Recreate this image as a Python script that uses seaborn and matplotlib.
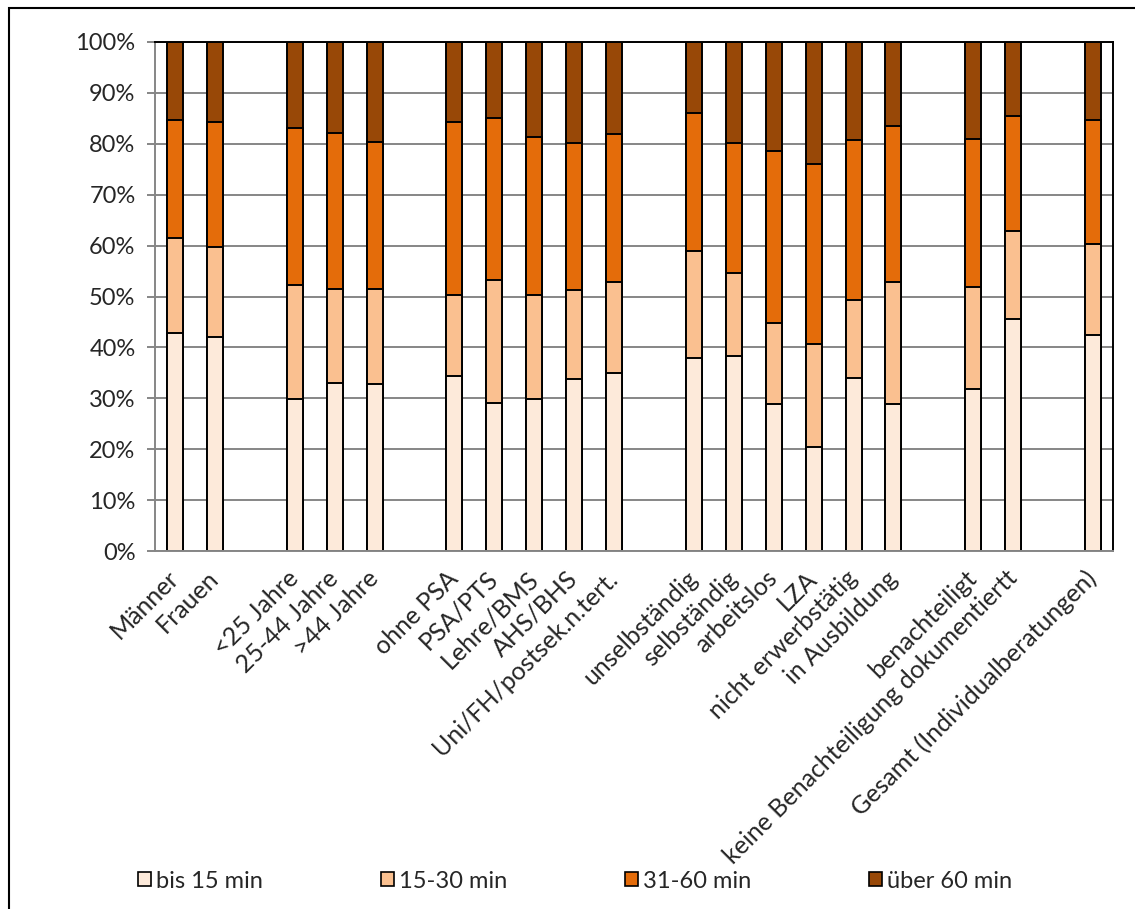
import pandas as pd
import matplotlib.pyplot as plt
import seaborn as sns
from matplotlib.patches import Patch, Rectangle
from matplotlib.ticker import PercentFormatter, MultipleLocator, FixedLocator

# ------------------------
# DATEN (Anteile in %)
# ------------------------
kategorien = [
    "Männer", "Frauen",
    "<25 Jahre", "25-44 Jahre", ">44 Jahre",
    "ohne PSA", "PSA/PTS", "Lehre/BMS", "AHS/BHS", "Uni/FH/postsek.n.tert.",
    "unselbständig", "selbständig", "arbeitslos", "LZA", "nicht erwerbstätig", "in Ausbildung",
    "benachteiligt", "keine Benachteiligung dokumentiertt",
    "Gesamt (Individualberatungen)",
]
bis_15 = [42.9, 42.1, 29.9, 33.1, 32.8, 34.3, 29.0, 29.8, 33.7, 34.9,
          37.9, 38.3, 28.9, 20.4, 34.0, 28.8, 31.8, 45.6, 42.4]
min_15_30 = [18.5, 17.7, 22.3, 18.4, 18.6, 15.9, 24.2, 20.5, 17.5, 17.9,
             21.0, 16.4, 15.9, 20.3, 15.3, 24.0, 20.1, 17.2, 18.0]
min_31_60 = [23.2, 24.5, 31.0, 30.7, 29.0, 34.0, 31.8, 31.0, 28.9, 29.2,
             27.1, 25.4, 33.7, 35.3, 31.5, 30.7, 29.1, 22.6, 24.2]
ueber_60 = [15.4, 15.7, 16.8, 17.8, 19.6, 15.8, 15.0, 18.7, 19.9, 18.0,
            14.0, 19.9, 21.5, 24.0, 19.2, 16.5, 19.0, 14.6, 15.4]

reihen = ["bis 15 min", "15-30 min", "31-60 min", "über 60 min"]
farben = ["#FDEADA", "#FAC090", "#E46C0A", "#984807"]

# Gruppengrößen -> Leerplätze zwischen den Gruppen
gruppen_groesse = [2, 3, 5, 6, 2, 1]

reihenfolge = []
pos = 0
for i, n in enumerate(gruppen_groesse):
    if i > 0:
        reihenfolge.append(" " * i)  # leerer Platz
    reihenfolge += kategorien[pos:pos + n]
    pos += n

df = pd.DataFrame({
    "kategorie": kategorien,
    "bis 15 min": bis_15,
    "15-30 min": min_15_30,
    "31-60 min": min_31_60,
    "über 60 min": ueber_60,
})
kum = df.set_index("kategorie")[reihen].cumsum(axis=1).reset_index()

# ------------------------
# PLOT
# ------------------------
sns.set_theme(style="white")
plt.rcParams["font.family"] = ["Lato", "DejaVu Sans"]
GRAU = "#868686"

fig = plt.figure(figsize=(11.35, 9.09), dpi=100)
ax = fig.add_axes([155 / 1135, 1 - 551 / 909, (1113 - 155) / 1135, (551 - 42) / 909])

# gestapelt: von oben (kumuliert) nach unten überzeichnen
for reihe, farbe in reversed(list(zip(reihen, farben))):
    sns.barplot(data=kum, x="kategorie", y=reihe, order=reihenfolge,
                color=farbe, saturation=1, width=0.4,
                edgecolor="black", linewidth=1.4, errorbar=None, ax=ax)

ax.set_xlim(-0.5, len(reihenfolge) - 0.5)
ax.set_ylim(0, 100)
ax.set_xlabel("")
ax.set_ylabel("")

ax.yaxis.set_major_locator(MultipleLocator(10))
ax.yaxis.set_major_formatter(PercentFormatter(decimals=0))
ax.yaxis.grid(True, color=GRAU, linewidth=1.4)
ax.set_axisbelow(True)

ax.set_xticks(range(len(reihenfolge)))
ax.set_xticklabels(reihenfolge, rotation=45, ha="right", va="center",
                   rotation_mode="anchor")
ax.xaxis.set_minor_locator(FixedLocator([i - 0.5 for i in range(len(reihenfolge) + 1)]))
ax.tick_params(axis="x", which="major", length=0, pad=17, labelsize=18)
ax.tick_params(axis="x", which="minor", length=6, width=1.4, color=GRAU, direction="out")
ax.tick_params(axis="y", length=6, width=1.4, color=GRAU, direction="out",
               pad=8, labelsize=17, left=True)

for s in ["left", "bottom"]:
    ax.spines[s].set_color(GRAU)
    ax.spines[s].set_linewidth(1.4)
for s in ["top", "right"]:
    ax.spines[s].set_color("black")
    ax.spines[s].set_linewidth(1.4)

handles = [Patch(facecolor=f, edgecolor="black", linewidth=1.2) for f in farben]
fig.legend(handles, reihen, loc="center", bbox_to_anchor=(575 / 1135, 1 - 881 / 909),
           ncol=4, frameon=False, fontsize=17, handlelength=0.55, handleheight=0.55,
           handletextpad=0.2, columnspacing=5.0)

# äußerer Rahmen (links/oben sichtbar)
fig.add_artist(Rectangle((9 / 1135, -0.1), 1.0, 1.1 - 8 / 909,
                         transform=fig.transFigure, fill=False,
                         edgecolor="black", linewidth=1.5))

fig.savefig("out.png", dpi=100)
